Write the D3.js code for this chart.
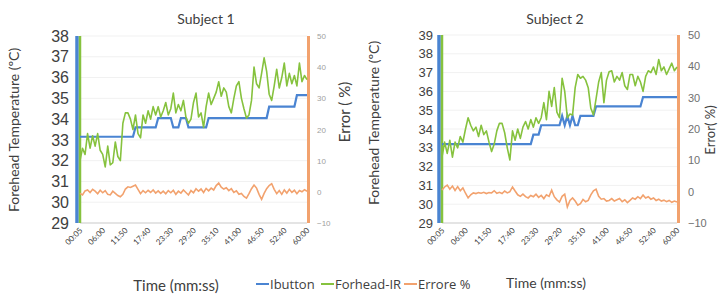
<!DOCTYPE html>
<html>
<head>
<meta charset="utf-8">
<script src="https://cdn.jsdelivr.net/npm/d3@7"></script>
<style>
  body { margin: 0; background: #fff; }
  svg { display: block; font-family: Lato, "Open Sans", sans-serif; }
</style>
</head>
<body>
<div id="dataviz"></div>
<script>
// tick labels of the time axis
var timeLabels = ["00:05", "06:00", "11:50", "17:40", "23:30", "29:20", "35:10", "41:00", "46:50", "52:40", "60:00"];

// Subject 1
var s1Ibutton = [
  33.15,33.15,33.15,33.15,33.15,33.15,33.15,33.15,33.15,33.15,
  33.15,33.15,33.15,33.15,33.15,33.15,33.15,33.15,33.15,33.15,
  33.15,33.15,33.6,33.6,33.6,33.6,33.6,33.6,33.6,33.6,
  33.6,34.05,34.05,34.05,34.05,34.05,34.05,33.6,33.6,33.6,
  34.05,34.05,34.05,33.6,33.6,33.6,33.6,33.6,33.6,33.6,
  33.6,34.05,34.05,34.05,34.05,34.05,34.05,34.05,34.05,34.05,
  34.05,34.05,34.05,34.05,34.05,34.05,34.05,34.05,34.05,34.05,
  34.05,34.05,34.05,34.05,34.05,34.6,34.6,34.6,34.6,34.6,
  34.6,34.6,34.6,34.6,34.6,34.6,35.15,35.15,35.15,35.15,
  35.15];
var s1Forehead = [
  32.0,32.6,32.3,33.3,32.6,33.2,32.7,33.3,32.5,32.3,
  31.7,32.7,31.8,31.9,32.9,32.2,32.0,33.8,34.3,34.3,
  34.0,33.5,34.2,33.3,33.1,34.2,33.8,34.4,34.0,34.6,
  34.2,34.6,34.1,34.4,34.8,34.2,34.5,35.25,34.3,34.7,
  34.4,34.9,34.1,33.8,34.0,34.8,35.25,34.1,34.3,33.6,
  34.6,35.25,34.7,35.0,35.3,35.8,35.1,35.5,35.3,34.6,
  34.3,35.0,35.6,35.8,35.0,34.5,34.05,34.2,34.9,36.5,
  35.7,35.5,36.2,36.95,36.3,35.2,34.9,35.6,36.4,35.5,
  36.0,36.7,35.6,36.2,35.7,36.1,35.6,36.7,35.8,36.1,
  35.9];
var s1Errore = [
  -0.5,-1.0,0.3,0.6,-0.2,0.8,0.2,-0.6,0.5,-0.3,
  0.4,-0.8,-1.0,0.2,-0.5,-1.2,-1.6,-0.8,0.9,1.6,
  1.4,1.8,2.2,0.8,-0.6,0.4,-0.3,0.5,-0.2,0.6,
  -0.4,0.3,-0.5,0.2,-0.6,0.4,-0.3,0.5,-0.8,0.2,
  -0.4,0.6,-0.2,-1.0,0.4,-0.3,1.0,0.2,0.9,-0.2,
  1.1,0.3,1.2,0.6,2.0,2.8,1.5,0.9,1.3,0.4,
  1.0,-0.2,0.3,-0.8,-0.5,-1.5,-2.0,-0.6,1.0,2.2,
  1.2,-0.8,-2.4,-0.5,1.0,2.0,2.6,0.8,-0.6,0.4,
  -0.8,0.6,-0.4,0.8,-0.2,0.5,-0.6,0.4,0.0,0.7,
  0.2];

// Subject 2
var s2Ibutton = [
  33.2,33.2,33.2,33.2,33.2,33.2,33.2,33.2,33.2,33.2,
  33.2,33.2,33.2,33.2,33.2,33.2,33.2,33.2,33.2,33.2,
  33.2,33.2,33.2,33.2,33.2,33.2,33.2,33.2,33.2,33.2,
  33.2,33.2,33.2,33.2,33.2,33.7,33.7,33.7,34.2,34.2,
  34.2,34.2,34.2,34.2,34.2,34.2,34.7,34.2,34.7,34.2,
  34.7,34.2,34.2,34.7,34.7,34.7,34.7,34.7,34.7,35.2,
  35.2,35.2,35.2,35.2,35.2,35.2,35.2,35.2,35.2,35.2,
  35.2,35.2,35.2,35.2,35.2,35.2,35.2,35.7,35.7,35.7,
  35.7,35.7,35.7,35.7,35.7,35.7,35.7,35.7,35.7,35.7,
  35.7];
var s2Forehead = [
  32.5,33.3,32.7,33.4,32.5,33.3,33.0,33.6,33.3,34.0,
  34.6,34.2,33.9,34.1,33.6,34.2,33.7,33.9,33.3,32.8,
  33.2,33.9,34.3,34.3,33.8,33.0,32.35,33.9,33.4,34.0,
  33.5,34.1,34.4,34.0,34.5,34.1,34.6,34.3,34.6,35.4,
  34.5,36.0,35.2,36.2,34.9,34.6,36.7,36.0,34.6,34.8,
  34.75,36.2,36.9,36.7,36.8,36.6,36.2,35.1,34.75,35.6,
  36.5,37.0,35.4,36.6,37.05,37.1,36.5,36.8,36.6,37.0,
  36.3,36.1,36.9,36.9,36.3,36.8,36.5,36.0,36.8,37.1,
  37.0,37.3,36.9,37.7,37.1,37.3,36.9,37.2,37.5,37.1,
  37.3];
var s2Errore = [
  0.5,1.5,2.1,0.8,1.8,0.4,1.6,0.3,1.2,-0.5,
  -2.0,-1.0,-0.4,-0.6,-0.3,-0.5,-0.2,-0.6,-0.3,-0.4,
  0.3,-0.5,-0.2,-0.6,0.2,-0.4,0.0,1.5,0.2,-1.0,
  -1.5,-0.8,-1.6,-2.0,-1.2,-1.6,-0.8,-1.8,-1.2,-2.2,
  -1.0,-1.5,0.5,-1.6,-2.6,-3.3,-1.5,-0.8,-4.9,-2.8,
  -2.0,-3.0,-4.3,-3.8,-2.5,-3.2,-2.8,-1.0,0.3,0.8,
  -1.5,-2.4,-2.2,-3.0,-2.8,-2.2,-3.0,-2.6,-2.2,-3.2,
  -2.6,-3.5,-2.8,-2.0,-2.4,-1.6,-2.2,-1.1,-2.0,-1.6,
  -2.4,-2.0,-2.8,-2.4,-3.0,-2.7,-3.2,-2.8,-3.4,-3.0,
  -3.3];

var seriesNames = ["Ibutton", "Forhead-IR", "Errore %"];
var colors = { "Ibutton": "#4a84d2", "Forhead-IR": "#86c23e", "Errore %": "#f2a26e" };

var width = 720, height = 297;

var svg = d3.select("#dataviz").append("svg")
    .attr("width", width)
    .attr("height", height);

// one panel = one subject with two y axes
function drawPanel(p) {
  var n = p.ibutton.length;
  var x = d3.scaleLinear().domain([0, n - 1]).range([p.x0, p.x1]);
  var yL = d3.scaleLinear().domain(p.leftDomain).range([p.bottom, p.top]);
  var yR = d3.scaleLinear().domain([-10, 50]).range([p.bottom, p.top]);

  var g = svg.append("g");

  // faint gridlines
  g.selectAll(".grid")
    .data(yL.ticks(p.leftDomain[1] - p.leftDomain[0]))
    .enter().append("line")
      .attr("x1", p.x0).attr("x2", p.x1)
      .attr("y1", function(d) { return yL(d); })
      .attr("y2", function(d) { return yL(d); })
      .attr("stroke", "#f1f1f1")
      .attr("stroke-width", 1);

  // baseline
  g.append("line")
    .attr("x1", p.x0).attr("x2", p.x1)
    .attr("y1", p.bottom).attr("y2", p.bottom)
    .attr("stroke", "#d0d0d0");

  // left axis labels
  var leftAxis = d3.axisLeft(yL).ticks(p.leftDomain[1] - p.leftDomain[0]).tickSize(0).tickPadding(0);
  var la = g.append("g")
    .attr("transform", "translate(" + p.leftLabelX + ",0)")
    .call(leftAxis);
  la.select(".domain").remove();
  la.selectAll("text")
    .attr("fill", "#404040")
    .style("font-size", p.leftFont + "px");

  // right axis labels
  var rightAxis = d3.axisRight(yR).ticks(6).tickSize(0).tickPadding(0);
  var ra = g.append("g")
    .attr("transform", "translate(" + p.rightLabelX + ",0)")
    .call(rightAxis);
  ra.select(".domain").remove();
  ra.selectAll("text")
    .attr("fill", p.rightColor)
    .style("font-size", p.rightFont + "px");

  // x axis tick labels, rotated
  var tickIdx = timeLabels.map(function(d, i) { return i * (n - 1) / (timeLabels.length - 1); });
  g.selectAll(".xlab")
    .data(tickIdx)
    .enter().append("text")
      .attr("transform", function(d) { return "translate(" + (x(d) + 3) + "," + (p.bottom + 8) + ") rotate(-45)"; })
      .attr("text-anchor", "end")
      .attr("fill", "#404040")
      .style("font-size", "8px")
      .text(function(d, i) { return timeLabels[i]; });

  // colored side bars (series running off the scale)
  g.append("line")
    .attr("x1", p.x0 - 3).attr("x2", p.x0 - 3)
    .attr("y1", p.top).attr("y2", p.bottom)
    .attr("stroke", colors["Ibutton"]).attr("stroke-width", 3.5);
  g.append("line")
    .attr("x1", p.x0).attr("x2", p.x0)
    .attr("y1", p.top).attr("y2", p.bottom)
    .attr("stroke", colors["Forhead-IR"]).attr("stroke-width", 2.5);
  g.append("line")
    .attr("x1", p.x1 + 1.5).attr("x2", p.x1 + 1.5)
    .attr("y1", p.top).attr("y2", p.bottom)
    .attr("stroke", colors["Errore %"]).attr("stroke-width", 3);

  var lineL = d3.line().x(function(d, i) { return x(i); }).y(function(d) { return yL(d); });
  var lineR = d3.line().x(function(d, i) { return x(i); }).y(function(d) { return yR(d); });

  g.append("path").datum(p.errore)
    .attr("d", lineR).attr("fill", "none")
    .attr("stroke", colors["Errore %"]).attr("stroke-width", 1.6);
  g.append("path").datum(p.ibutton)
    .attr("d", lineL).attr("fill", "none")
    .attr("stroke", colors["Ibutton"]).attr("stroke-width", 2.2);
  g.append("path").datum(p.forehead)
    .attr("d", lineL).attr("fill", "none")
    .attr("stroke", colors["Forhead-IR"]).attr("stroke-width", 1.6)
    .attr("stroke-linejoin", "round");

  // title
  g.append("text")
    .attr("x", p.titleX).attr("y", 24)
    .attr("text-anchor", "middle")
    .attr("fill", "#404040")
    .style("font-size", "14px")
    .text(p.title);

  // axis titles
  g.append("text")
    .attr("transform", "translate(" + p.leftTitleX + "," + p.leftTitleY + ") rotate(-90)")
    .attr("text-anchor", "middle")
    .attr("fill", "#404040")
    .style("font-size", "14px")
    .text("Forehead Temperature (ºC)");
  g.append("text")
    .attr("transform", "translate(" + p.rightTitleX + "," + p.rightTitleY + ") rotate(-90)")
    .attr("text-anchor", "middle")
    .attr("fill", "#404040")
    .style("font-size", p.rightTitleFont + "px")
    .text(p.rightTitle);

  g.append("text")
    .attr("x", p.timeX).attr("y", p.timeY)
    .attr("text-anchor", "middle")
    .attr("fill", "#404040")
    .style("font-size", p.timeFont + "px")
    .text("Time (mm:ss)");
}

drawPanel({
  ibutton: s1Ibutton, forehead: s1Forehead, errore: s1Errore,
  x0: 80, x1: 307, top: 36, bottom: 223, leftDomain: [29, 38],
  leftLabelX: 69, leftFont: 16, rightLabelX: 317, rightFont: 8, rightColor: "#a0a0a0",
  title: "Subject 1", titleX: 206,
  leftTitleX: 19, leftTitleY: 130, rightTitleX: 350, rightTitleY: 112, rightTitle: "Error ( %)", rightTitleFont: 15,
  timeX: 176, timeY: 291, timeFont: 15
});

drawPanel({
  ibutton: s2Ibutton, forehead: s2Forehead, errore: s2Errore,
  x0: 442, x1: 677, top: 35, bottom: 223, leftDomain: [29, 39],
  leftLabelX: 433, leftFont: 13, rightLabelX: 688, rightFont: 11, rightColor: "#707070",
  title: "Subject 2", titleX: 555,
  leftTitleX: 379, leftTitleY: 123, rightTitleX: 715, rightTitleY: 130, rightTitle: "Error( %)", rightTitleFont: 13,
  timeX: 546, timeY: 288, timeFont: 14
});

// legend
var legendX = [256, 321, 404];
var legend = svg.append("g");
legend.selectAll("line")
  .data(seriesNames)
  .enter().append("line")
    .attr("x1", function(d, i) { return legendX[i]; })
    .attr("x2", function(d, i) { return legendX[i] + 13; })
    .attr("y1", 284).attr("y2", 284)
    .attr("stroke", function(d) { return colors[d]; })
    .attr("stroke-width", 2);
legend.selectAll("text")
  .data(seriesNames)
  .enter().append("text")
    .attr("x", function(d, i) { return legendX[i] + 14; })
    .attr("y", 289)
    .attr("fill", "#404040")
    .style("font-family", "'Liberation Sans Narrow', 'Open Sans', sans-serif")
    .style("font-size", "13px")
    .text(function(d) { return d; });
</script>
</body>
</html>
